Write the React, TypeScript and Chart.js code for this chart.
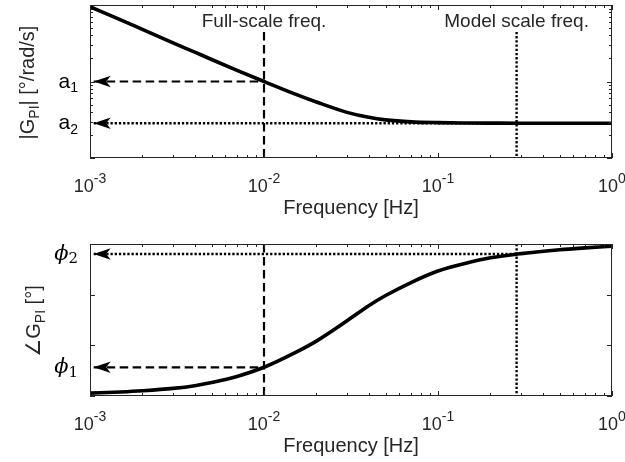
import React, { useEffect, useRef } from "react";
import { Chart, registerables } from "chart.js";

Chart.register(...registerables);

// ---------- data ----------
const frequencies = [0.001, 0.0015, 0.002, 0.003, 0.004, 0.005, 0.007, 0.01, 0.015, 0.02, 0.03, 0.04, 0.05, 0.07, 0.1, 0.15, 0.2, 0.3, 0.5, 0.7, 1];
const magnitude = [9.5, 6.4, 4.8, 3.2, 2.42, 1.94, 1.4, 1.0, 0.69, 0.54, 0.395, 0.34, 0.315, 0.297, 0.29, 0.287, 0.286, 0.285, 0.285, 0.285, 0.285];
const phase = [-88.3, -87.6, -86.9, -85.5, -83.9, -82.0, -78.4, -73.0, -64.5, -57.5, -45.5, -36.5, -30.5, -22.8, -16.0, -11.0, -8.2, -5.7, -3.4, -2.3, -1.3];

const fullScaleFreq = 0.01;
const modelScaleFreq = 0.283;
const arrowFreq = 0.00105;
const a1Value = 1.0;
const a2Value = 0.285;
const phi1Value = -73.0;
const phi2Value = -5.9;
const markerTopMag = 4.45;

const xMajorTicks = [0.001, 0.01, 0.1, 1];
const xTickExponents = ["-3", "-2", "-1", "0"];
const xMinorTicks = [0.002, 0.003, 0.004, 0.005, 0.006, 0.007, 0.008, 0.009, 0.02, 0.03, 0.04, 0.05, 0.06, 0.07, 0.08, 0.09, 0.2, 0.3, 0.4, 0.5, 0.6, 0.7, 0.8, 0.9];
const magMajorTicks = [0.1, 1, 10];
const magMinorTicks = [0.2, 0.3, 0.4, 0.5, 0.6, 0.7, 0.8, 0.9, 2, 3, 4, 5, 6, 7, 8, 9];
const phaseMajorTicks = [-90, -60, -30, 0];

const annotationTexts = ["Full-scale freq.", "Model scale freq."];
const xTitle = "Frequency [Hz]";

// ---------- styling ----------
const AXIS = "#262626";
const SANS = '"Liberation Sans", Arial, Helvetica, "DejaVu Sans", sans-serif';
const SERIF_I = 'italic 21px "DejaVu Serif", "Liberation Serif", serif';
const SERIF = '15px "DejaVu Serif", "Liberation Serif", serif';

type Part = { t: string; font: string; dy?: number };

function partsWidth(ctx: CanvasRenderingContext2D, parts: Part[]) {
  let w = 0;
  for (const p of parts) {
    ctx.font = p.font;
    w += ctx.measureText(p.t).width;
  }
  return w;
}

function drawParts(ctx: CanvasRenderingContext2D, parts: Part[], x: number, y: number, align: "left" | "center" | "right") {
  const w = partsWidth(ctx, parts);
  let cx = align === "left" ? x : align === "center" ? x - w / 2 : x - w;
  ctx.textAlign = "left";
  ctx.textBaseline = "alphabetic";
  for (const p of parts) {
    ctx.font = p.font;
    ctx.fillText(p.t, cx, y + (p.dy || 0));
    cx += ctx.measureText(p.t).width;
  }
}

type YLabel = { value: number; parts: Part[]; dy: number };

type PanelSpec = {
  padTop: number;
  padBottom: number;
  yScale: any;
  yMajor: number[];
  yMinor: number[];
  yLabels: YLabel[];
  yTitle: Part[];
  yTitleX: number;
  arrowValues: number[];
  annotations: { freq: number; text: string }[];
  datasets: any[];
};

function drawArrow(ctx: CanvasRenderingContext2D, tx: number, ty: number) {
  const len = 17;
  const half = 5.8;
  const notch = 12.5;
  ctx.beginPath();
  ctx.moveTo(tx, ty);
  ctx.lineTo(tx + len, ty - half);
  ctx.lineTo(tx + notch, ty);
  ctx.lineTo(tx + len, ty + half);
  ctx.closePath();
  ctx.fillStyle = "#000";
  ctx.fill();
}

function framePlugin(spec: PanelSpec) {
  return {
    id: "matlabFrame",
    afterDatasetsDraw(chart: any) {
      const { ctx, chartArea: a, scales } = chart;
      const x = scales.x;
      const y = scales.y;
      ctx.save();

      // arrowheads
      const ax = x.getPixelForValue(arrowFreq);
      for (const v of spec.arrowValues) drawArrow(ctx, ax, y.getPixelForValue(v));

      // ticks (inward, on all four sides)
      ctx.strokeStyle = AXIS;
      ctx.lineWidth = 1;
      ctx.beginPath();
      const xt = (vals: number[], len: number) => {
        for (const v of vals) {
          const px = Math.round(x.getPixelForValue(v)) + 0.5;
          ctx.moveTo(px, a.bottom);
          ctx.lineTo(px, a.bottom - len);
          ctx.moveTo(px, a.top);
          ctx.lineTo(px, a.top + len);
        }
      };
      const yt = (vals: number[], len: number) => {
        for (const v of vals) {
          const py = Math.round(y.getPixelForValue(v)) + 0.5;
          ctx.moveTo(a.left, py);
          ctx.lineTo(a.left + len, py);
          ctx.moveTo(a.right, py);
          ctx.lineTo(a.right - len, py);
        }
      };
      xt(xMajorTicks, 5);
      xt(xMinorTicks, 3);
      yt(spec.yMajor, 5);
      yt(spec.yMinor, 3);
      ctx.stroke();

      // box
      ctx.strokeRect(a.left + 0.5, a.top + 0.5, a.right - a.left - 1, a.bottom - a.top - 1);

      // x tick labels
      ctx.fillStyle = AXIS;
      xMajorTicks.forEach((v, i) => {
        const px = x.getPixelForValue(v);
        drawParts(
          ctx,
          [
            { t: "10", font: `18px ${SANS}` },
            { t: xTickExponents[i], font: `14px ${SANS}`, dy: -9 },
          ],
          px,
          a.bottom + 34,
          "center"
        );
      });

      // x title
      ctx.fillStyle = AXIS;
      drawParts(ctx, [{ t: xTitle, font: `20px ${SANS}` }], (a.left + a.right) / 2, a.bottom + 56, "center");

      // y labels
      for (const lab of spec.yLabels) {
        const py = y.getPixelForValue(lab.value);
        ctx.fillStyle = "#000";
        drawParts(ctx, lab.parts, 78, py + lab.dy, "right");
      }

      // y title (rotated)
      ctx.save();
      ctx.translate(spec.yTitleX, (a.top + a.bottom) / 2 + 1);
      ctx.rotate(-Math.PI / 2);
      ctx.fillStyle = AXIS;
      drawParts(ctx, spec.yTitle, 0, 0, "center");
      ctx.restore();

      // annotations
      for (const an of spec.annotations) {
        ctx.fillStyle = AXIS;
        drawParts(ctx, [{ t: an.text, font: `19px ${SANS}` }], x.getPixelForValue(an.freq), a.top + 22, "center");
      }

      ctx.restore();
    },
  };
}

function lineDs(data: { x: number; y: number }[], width: number, dash: number[], order: number) {
  return {
    data,
    borderColor: "#000",
    backgroundColor: "#000",
    borderWidth: width,
    borderDash: dash,
    pointRadius: 0,
    fill: false,
    tension: 0,
    order,
  };
}

const DASH = [8.5, 4.5];
const DOT = [2.3, 1.9];

const magCurve = frequencies.map((f, i) => ({ x: f, y: magnitude[i] }));
const phaseCurve = frequencies.map((f, i) => ({ x: f, y: phase[i] }));

const topSpec: PanelSpec = {
  padTop: 5,
  padBottom: 73,
  yScale: { type: "logarithmic", min: 0.1, max: 10, display: false },
  yMajor: magMajorTicks,
  yMinor: magMinorTicks,
  yLabels: [
    { value: a1Value, dy: 6, parts: [{ t: "a", font: `21px ${SANS}` }, { t: "1", font: `14px ${SANS}`, dy: 4.5 }] },
    { value: a2Value, dy: 6, parts: [{ t: "a", font: `21px ${SANS}` }, { t: "2", font: `14px ${SANS}`, dy: 4.5 }] },
  ],
  yTitle: [
    { t: "|G", font: `20px ${SANS}` },
    { t: "PI", font: `14px ${SANS}`, dy: 4.5 },
    { t: "| [°/rad/s]", font: `20px ${SANS}` },
  ],
  yTitleX: 34,
  arrowValues: [a1Value, a2Value],
  annotations: [
    { freq: fullScaleFreq, text: annotationTexts[0] },
    { freq: modelScaleFreq, text: annotationTexts[1] },
  ],
  datasets: [
    { ...lineDs(magCurve, 3.6, [], 0), cubicInterpolationMode: "monotone" },
    lineDs([{ x: arrowFreq, y: a1Value }, { x: fullScaleFreq, y: a1Value }], 2.2, DASH, 1),
    lineDs([{ x: arrowFreq, y: a2Value }, { x: modelScaleFreq, y: a2Value }], 2.4, DOT, 2),
    lineDs([{ x: fullScaleFreq, y: markerTopMag }, { x: fullScaleFreq, y: 0.1 }], 2.2, DASH, 3),
    lineDs([{ x: modelScaleFreq, y: markerTopMag }, { x: modelScaleFreq, y: 0.1 }], 2.4, DOT, 4),
  ],
};

const botSpec: PanelSpec = {
  padTop: 13,
  padBottom: 66,
  yScale: { type: "linear", min: -90, max: 0, display: false },
  yMajor: phaseMajorTicks,
  yMinor: [],
  yLabels: [
    { value: phi1Value, dy: 6, parts: [{ t: "\u03D5", font: SERIF_I }, { t: "1", font: SERIF, dy: 3.5 }] },
    { value: phi2Value, dy: 6, parts: [{ t: "\u03D5", font: SERIF_I }, { t: "2", font: SERIF, dy: 3.5 }] },
  ],
  yTitle: [
    { t: "\u2220G", font: `20px ${SANS}` },
    { t: "PI", font: `14px ${SANS}`, dy: 4.5 },
    { t: " [°]", font: `20px ${SANS}` },
  ],
  yTitleX: 40,
  arrowValues: [phi1Value, phi2Value],
  annotations: [],
  datasets: [
    { ...lineDs(phaseCurve, 3.6, [], 0), cubicInterpolationMode: "monotone" },
    lineDs([{ x: arrowFreq, y: phi1Value }, { x: fullScaleFreq, y: phi1Value }], 2.2, DASH, 1),
    lineDs([{ x: arrowFreq, y: phi2Value }, { x: modelScaleFreq, y: phi2Value }], 2.4, DOT, 2),
    lineDs([{ x: fullScaleFreq, y: 0 }, { x: fullScaleFreq, y: -90 }], 2.2, DASH, 3),
    lineDs([{ x: modelScaleFreq, y: 0 }, { x: modelScaleFreq, y: -90 }], 2.4, DOT, 4),
  ],
};

function makeConfig(spec: PanelSpec): any {
  return {
    type: "line",
    data: { datasets: spec.datasets },
    options: {
      responsive: false,
      maintainAspectRatio: false,
      animation: false,
      events: [],
      layout: { padding: { left: 90, right: 13, top: spec.padTop, bottom: spec.padBottom } },
      plugins: { legend: { display: false }, tooltip: { enabled: false } },
      scales: {
        x: { type: "logarithmic", min: 0.001, max: 1, display: false },
        y: spec.yScale,
      },
    },
    plugins: [framePlugin(spec)],
  };
}

export default function App() {
  const topRef = useRef<HTMLCanvasElement>(null);
  const botRef = useRef<HTMLCanvasElement>(null);

  useEffect(() => {
    const c1 = new Chart(topRef.current as HTMLCanvasElement, makeConfig(topSpec));
    const c2 = new Chart(botRef.current as HTMLCanvasElement, makeConfig(botSpec));
    return () => {
      c1.destroy();
      c2.destroy();
    };
  }, []);

  return (
    <div style={{ position: "absolute", left: 0, top: 0, width: 625, height: 462, background: "#fff" }}>
      <canvas ref={topRef} width={625} height={231} style={{ position: "absolute", left: 0, top: 0 }} />
      <canvas ref={botRef} width={625} height={231} style={{ position: "absolute", left: 0, top: 231 }} />
    </div>
  );
}
